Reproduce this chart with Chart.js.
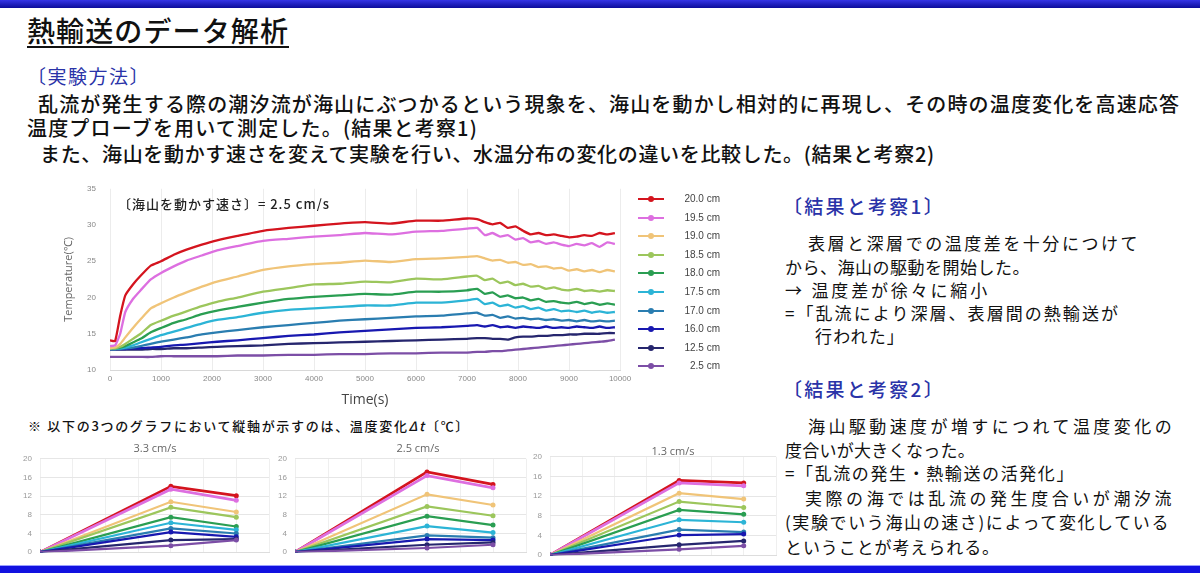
<!DOCTYPE html>
<html><head><meta charset="utf-8">
<script src="https://cdn.jsdelivr.net/npm/chart.js@4/dist/chart.umd.min.js"></script>
<style>
html,body{margin:0;padding:0;background:#fff;}
body{width:1200px;height:573px;position:relative;overflow:hidden;font-family:"Noto Sans CJK JP","Noto Sans",sans-serif;color:#111;}
.t{position:absolute;white-space:nowrap;line-height:1;transform:translateY(-50%);}
.blue{color:#2a33a8;}
canvas{position:absolute;}
#topbar{position:absolute;left:0;top:0;width:1200px;height:8px;background:linear-gradient(#3535e6,#0c0c9a);}
#botbar{position:absolute;left:0;top:565px;width:1200px;height:8px;background:#1212e0;border-top:1px solid #9aa0ff;}
.lg{position:absolute;left:638px;width:90px;height:12px;transform:translateY(-50%);}
.lg .ln{position:absolute;left:0;top:5px;width:26px;height:2px;}
.lg .dt{position:absolute;left:10px;top:3px;width:6px;height:6px;border-radius:50%;}
.lg .tx{position:absolute;left:40px;width:42px;top:0;text-align:right;font:10px "Liberation Sans",Arial,sans-serif;color:#444;line-height:12px;}
.st{position:absolute;font:11px "Open Sans","Liberation Sans",sans-serif;color:#666;transform:translate(-50%,-50%);white-space:nowrap;}
</style></head>
<body>
<div id="topbar"></div>
<div class="t" data-w="262" style="left:27px;top:30px;font-size:28px;font-weight:500;text-decoration:underline;text-underline-offset:4px;text-decoration-thickness:2px;">熱輸送のデータ解析</div>
<div class="t blue" data-w="123" style="left:27px;top:75px;font-size:19px;">〔実験方法〕</div>
<div class="t" data-w="1142" style="left:38px;top:104px;font-size:20px;font-weight:500;">乱流が発生する際の潮汐流が海山にぶつかるという現象を、海山を動かし相対的に再現し、その時の温度変化を高速応答</div>
<div class="t" data-w="451" style="left:27px;top:128px;font-size:20px;font-weight:500;">温度プローブを用いて測定した。(結果と考察1)</div>
<div class="t" data-w="895" style="left:40px;top:154px;font-size:20px;font-weight:500;">また、海山を動かす速さを変えて実験を行い、水温分布の変化の違いを比較した。(結果と考察2)</div>

<div class="t blue" data-w="162" style="left:783px;top:205px;font-size:19px;font-weight:500;">〔結果と考察1〕</div>
<div class="t" data-w="332" style="left:808px;top:242px;font-size:17px;">表層と深層での温度差を十分につけて</div>
<div class="t" data-w="245" style="left:785px;top:266px;font-size:17px;">から、海山の駆動を開始した。</div>
<div class="t" data-w="205" style="left:785px;top:289px;font-size:17px;">→ 温度差が徐々に縮小</div>
<div class="t" data-w="335" style="left:785px;top:312px;font-size:17px;">=「乱流により深層、表層間の熱輸送が</div>
<div class="t" data-w="90" style="left:815px;top:335px;font-size:17px;">行われた」</div>
<div class="t blue" data-w="162" style="left:783px;top:388px;font-size:19px;font-weight:500;">〔結果と考察2〕</div>
<div class="t" data-w="367" style="left:808px;top:425px;font-size:17px;">海山駆動速度が増すにつれて温度変化の</div>
<div class="t" data-w="190" style="left:785px;top:449px;font-size:17px;">度合いが大きくなった。</div>
<div class="t" data-w="290" style="left:785px;top:472px;font-size:17px;">=「乱流の発生・熱輸送の活発化」</div>
<div class="t" data-w="370" style="left:805px;top:497px;font-size:17px;">実際の海では乱流の発生度合いが潮汐流</div>
<div class="t" data-w="385" style="left:785px;top:521px;font-size:17px;">(実験でいう海山の速さ)によって変化している</div>
<div class="t" data-w="215" style="left:785px;top:546px;font-size:17px;">ということが考えられる。</div>

<div class="t" data-w="442" style="left:28px;top:425px;font-size:13px;font-weight:500;">※ 以下の3つのグラフにおいて縦軸が示すのは、温度変化<i>Δt</i>〔℃〕</div>

<canvas id="main" width="580" height="232" style="left:62px;top:178px;"></canvas>
<div class="t" data-w="212" style="left:118px;top:203px;font-size:13px;font-weight:500;color:#222;">〔海山を動かす速さ〕= 2.5 cm/s</div>
<div id="legend"></div>

<canvas id="c33" width="260" height="119" style="left:15px;top:446px;"></canvas>
<canvas id="c25" width="260" height="119" style="left:270px;top:446px;"></canvas>
<canvas id="c13" width="255" height="124" style="left:525px;top:444px;"></canvas>
<div class="st" style="left:155px;top:447px;">3.3 cm/s</div>
<div class="st" style="left:418px;top:447px;">2.5 cm/s</div>
<div class="st" style="left:673px;top:450px;">1.3 cm/s</div>
<div id="botbar"></div>

<script>
// ---------- data ----------
const depthLabels = ['20.0 cm','19.5 cm','19.0 cm','18.5 cm','18.0 cm','17.5 cm','17.0 cm','16.0 cm','12.5 cm','2.5 cm'];
const seriesColors = ['#d4141e','#dd6fe0','#f0c478','#9cc65c','#2a9e52','#2cb4d6','#2a7db0','#1818b0','#26266e','#7c4ea6'];

const timeS = [0,100,200,300,450,600,800,1000,1250,1500,1800,2100,2500,3000,3500,4000,4500,5000,5500,6000,6500,7000,7200,7350,7500,7650,7800,7950,8100,8250,8400,8550,8700,8850,9000,9150,9300,9450,9600,9750,9900];
const temp200 = [14.1,14.0,17.5,20.3,21.8,23.0,24.4,25.0,25.9,26.6,27.3,27.9,28.5,29.2,29.6,29.9,30.2,30.4,30.2,30.6,30.6,30.9,30.8,30.4,30.1,30.3,29.6,29.8,29.2,28.7,28.9,28.6,28.7,28.5,28.3,28.4,28.6,28.5,28.9,28.7,28.9];
const temp195 = [13.3,13.4,15.0,18.0,19.8,21.0,22.5,23.4,24.3,25.1,25.8,26.5,27.1,27.8,28.1,28.4,28.6,28.9,28.7,29.1,29.2,29.5,29.6,28.6,28.9,28.4,28.6,28.0,28.2,27.6,27.8,27.4,27.6,27.3,27.1,27.4,27.2,27.5,27.0,27.6,27.4];
const temp190 = [13.0,13.1,13.6,14.5,15.8,17.0,18.5,19.2,20.0,20.7,21.5,22.2,22.9,23.8,24.3,24.6,24.8,25.1,24.9,25.3,25.4,25.6,25.7,25.4,25.1,25.2,24.8,24.9,24.5,24.6,24.2,24.3,24.0,24.1,23.7,23.9,23.6,23.8,23.5,23.8,23.6];
const temp185 = [13.0,13.0,13.2,13.6,14.3,15.0,16.2,16.8,17.5,18.1,18.8,19.4,20.0,20.8,21.3,21.8,21.9,22.2,22.1,22.6,22.5,22.9,23.0,22.4,22.6,22.0,22.2,21.7,21.9,21.5,21.6,21.2,21.4,21.1,21.0,21.2,20.9,21.0,20.8,21.0,20.9];
const temp180 = [13.0,13.0,13.1,13.3,13.8,14.3,15.2,15.8,16.5,17.0,17.7,18.2,18.7,19.3,19.8,20.1,20.3,20.5,20.4,20.8,20.8,21.0,21.2,20.5,20.7,20.1,20.3,19.9,20.0,19.6,19.8,19.4,19.5,19.3,19.2,19.4,19.1,19.3,19.0,19.2,19.0];
const temp175 = [12.9,12.9,13.0,13.1,13.4,13.8,14.3,14.8,15.3,15.8,16.4,16.9,17.3,17.9,18.3,18.5,18.7,18.9,18.9,19.3,19.3,19.6,19.8,19.1,19.3,18.8,19.0,18.6,18.8,18.4,18.6,18.2,18.4,18.1,18.2,18.0,18.2,17.9,18.1,17.9,18.0];
const temp170 = [12.9,12.9,12.9,13.0,13.1,13.3,13.6,13.9,14.2,14.5,14.9,15.2,15.5,15.9,16.2,16.5,16.8,17.0,17.2,17.4,17.5,17.8,17.9,17.5,17.6,17.2,17.4,17.1,17.2,17.0,17.1,16.9,17.0,16.8,16.9,16.7,16.9,16.7,16.8,16.7,16.8];
const temp160 = [12.9,12.9,12.9,12.9,13.0,13.0,13.1,13.2,13.4,13.5,13.7,13.9,14.1,14.4,14.7,14.9,15.2,15.4,15.6,15.8,15.9,16.1,16.2,16.0,16.2,15.9,16.0,15.8,16.0,15.9,15.8,16.0,15.8,15.9,15.8,16.0,15.9,15.8,16.0,15.8,15.9];
const temp125 = [12.8,12.8,12.8,12.8,12.8,12.8,12.9,12.9,13.0,13.0,13.1,13.2,13.3,13.4,13.6,13.7,13.8,13.9,14.0,14.1,14.2,14.3,14.4,14.4,14.3,14.3,14.2,14.5,14.6,14.6,14.7,14.7,14.8,14.8,14.9,14.9,15.0,15.0,15.0,15.1,15.1];
const temp025 = [11.8,11.8,11.8,11.8,11.8,11.8,11.8,11.9,11.9,11.9,11.9,11.9,12.0,12.0,12.1,12.1,12.2,12.2,12.3,12.3,12.4,12.4,12.5,12.5,12.6,12.6,12.7,12.8,12.9,13.0,13.1,13.2,13.3,13.4,13.5,13.6,13.7,13.8,13.9,14.0,14.2];
const mainSeries = [temp200,temp195,temp190,temp185,temp180,temp175,temp170,temp160,temp125,temp025];
const mainYTicks = [10,15,20,25,30,35];
const mainXTicks = [0,1000,2000,3000,4000,5000,6000,7000,8000,9000,10000];

// small charts: x positions (start, peak, final) and delta-t values per depth
const smallX = [0,2,3];
const dtStart = 0;
const dt33Peak  = [14.1,13.5,10.8,9.6,7.5,6.3,5.1,4.3,2.6,1.4];
const dt33Final = [12.1,11.1,8.6,7.5,5.5,4.8,4.0,3.3,2.8,2.6];
const dt25Peak  = [17.2,16.4,12.4,9.8,7.7,5.6,3.6,2.8,1.6,0.9];
const dt25Final = [14.5,13.8,10.1,7.8,5.8,4.2,3.1,2.6,2.1,1.6];
const dt13Peak  = [15.2,14.7,12.6,10.9,9.2,7.2,5.2,4.1,2.1,1.2];
const dt13Final = [14.7,14.1,11.4,9.7,8.3,6.7,4.7,4.3,2.9,1.9];
const smallYTicks = [0,4,8,12,16,20];

// ---------- text fitting ----------
document.querySelectorAll('.t[data-w]').forEach(el=>{
  const w = +el.dataset.w;
  const nat = el.getBoundingClientRect().width;
  const n = el.textContent.length;
  el.style.letterSpacing = ((w - nat)/n).toFixed(2)+'px';
});

// ---------- legend ----------
const lg = document.getElementById('legend');
depthLabels.forEach((lab,i)=>{
  const d = document.createElement('div');
  d.className='lg';
  d.style.top = (199 + i*18.6)+'px';
  d.innerHTML = `<div class="ln" style="background:${seriesColors[i]}"></div><div class="dt" style="background:${seriesColors[i]}"></div><div class="tx">${lab}</div>`;
  lg.appendChild(d);
});

Chart.defaults.animation = false;
Chart.defaults.devicePixelRatio = 1;

// ---------- main chart ----------
new Chart(document.getElementById('main'), {
  type:'line',
  data:{ datasets: mainSeries.map((s,i)=>({
    label: depthLabels[i],
    data: s.map((v,j)=>({x:timeS[j], y:v})),
    borderColor: seriesColors[i], backgroundColor: seriesColors[i],
    borderWidth: 2.3, pointRadius:0, tension:0.15
  }))},
  options:{
    responsive:false, maintainAspectRatio:false,
    layout:{padding:{top:6,right:22,bottom:0,left:0}},
    plugins:{legend:{display:false},tooltip:{enabled:false}},
    scales:{
      x:{type:'linear',min:0,max:10000,
        afterBuildTicks:(sc)=>{sc.ticks = mainXTicks.map(v=>({value:v}));},
        afterFit:(sc)=>{sc.height=40;},
        ticks:{font:{size:8,family:'"Liberation Sans",Arial'},color:'#888',maxRotation:0,padding:4,callback:(v)=>String(v)},
        grid:{color:'#ececec',drawTicks:false},
        border:{color:'#d8d8d8'},
        title:{display:true,text:'Time(s)',font:{size:14,family:'"Open Sans","Liberation Sans",sans-serif'},color:'#444',padding:{top:0,bottom:2}}
      },
      y:{min:10,max:35,
        afterBuildTicks:(sc)=>{sc.ticks = mainYTicks.map(v=>({value:v}));},
        afterFit:(sc)=>{sc.width=48;},
        ticks:{font:{size:8,family:'"Liberation Sans",Arial'},color:'#888',padding:6},
        grid:{display:false},
        border:{display:false},
        title:{display:true,text:'Temperature(℃)',font:{size:11,family:'"Open Sans","Liberation Sans",sans-serif'},color:'#666',padding:{top:0,bottom:2}}
      }
    }
  }
});

// ---------- small charts ----------
function smallChart(id, peak, fin, padRight){
  new Chart(document.getElementById(id), {
    type:'line',
    data:{datasets: peak.map((p,i)=>({
      label: depthLabels[i],
      data: [{x:smallX[0],y:dtStart},{x:smallX[1],y:p},{x:smallX[2],y:fin[i]}],
      borderColor: seriesColors[i], backgroundColor: seriesColors[i],
      borderWidth: i<2?2.8:2.2, pointRadius:2.5, pointBorderWidth:0
    })).reverse()},
    options:{
      responsive:false, maintainAspectRatio:false,
      layout:{padding:{top:8,right:padRight,bottom:0,left:0}},
      plugins:{legend:{display:false},tooltip:{enabled:false}},
      scales:{
        x:{type:'linear',min:0,max:3.5,
          ticks:{display:false,stepSize:0.5},
          afterFit:(sc)=>{sc.height=0;},
          grid:{color:'#efefef',drawTicks:false},
          border:{color:'#dddddd'}
        },
        y:{min:0,max:20,
          afterBuildTicks:(sc)=>{sc.ticks = smallYTicks.map(v=>({value:v}));},
          afterFit:(sc)=>{sc.width=25;},
          ticks:{font:{size:8,family:'"Liberation Sans",Arial'},color:'#999',padding:8},
          grid:{color:'#e6e6e6',drawTicks:false},
          border:{display:false}
        }
      }
    }
  });
}
smallChart('c33', dt33Peak, dt33Final, 6);
smallChart('c25', dt25Peak, dt25Final, 4);
smallChart('c13', dt13Peak, dt13Final, 4);
</script>
</body></html>
